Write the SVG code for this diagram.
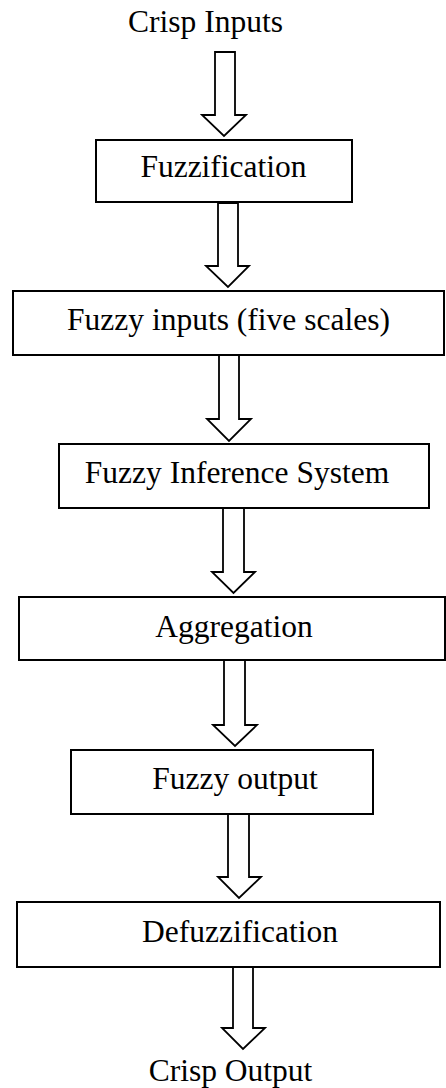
<svg xmlns="http://www.w3.org/2000/svg" width="446" height="1088" viewBox="0 0 446 1088">
  <style>
    .box { fill: #ffffff; stroke: #000000; stroke-width: 2; }
    .arrow { fill: #ffffff; stroke: #000000; stroke-width: 1.8; stroke-linejoin: miter; }
    .label { font-family: "Liberation Serif", "Times New Roman", serif; font-size: 31.5px; fill: #000000; text-anchor: middle; }
  </style>
  <rect width="446" height="1088" fill="#ffffff"/>

  <!-- block arrows between stages -->
  <g id="connectors">
    <polygon class="arrow" points="215,52 235,52 235,115 246,115 224,136 202,115 215,115"/>
    <polygon class="arrow" points="218,203 238,203 238,266 249,266 228,287 206,266 218,266"/>
    <polygon class="arrow" points="219,355 239,355 239,419 251,419 229,441 207,419 219,419"/>
    <polygon class="arrow" points="223,508 244,508 244,572 255,572 233.5,593 212,572 223,572"/>
    <polygon class="arrow" points="224,660 245,660 245,725 257,725 235,746 213,725 224,725"/>
    <polygon class="arrow" points="228,814 249,814 249,877 261,877 239,898 218,877 228,877"/>
    <polygon class="arrow" points="233,967 253,967 253,1028 265,1028 243,1049 222,1028 233,1028"/>
  </g>

  <g id="crisp-inputs">
    <text class="label" x="205.5" y="32">Crisp Inputs</text>
  </g>

  <g id="fuzzification">
    <rect class="box" x="96" y="140" width="256" height="62"/>
    <text class="label" x="223.5" y="177">Fuzzification</text>
  </g>

  <g id="fuzzy-inputs">
    <rect class="box" x="13" y="291" width="431" height="64"/>
    <text class="label" x="228.5" y="330">Fuzzy inputs (five scales)</text>
  </g>

  <g id="fuzzy-inference-system">
    <rect class="box" x="59" y="444" width="370" height="64"/>
    <text class="label" x="237" y="483">Fuzzy Inference System</text>
  </g>

  <g id="aggregation">
    <rect class="box" x="19" y="597" width="426" height="63"/>
    <text class="label" x="234" y="637">Aggregation</text>
  </g>

  <g id="fuzzy-output">
    <rect class="box" x="71" y="750" width="302" height="64"/>
    <text class="label" x="235" y="789">Fuzzy output</text>
  </g>

  <g id="defuzzification">
    <rect class="box" x="17" y="902" width="423" height="65"/>
    <text class="label" x="240" y="942">Defuzzification</text>
  </g>

  <g id="crisp-output">
    <text class="label" x="230.5" y="1081">Crisp Output</text>
  </g>
</svg>
